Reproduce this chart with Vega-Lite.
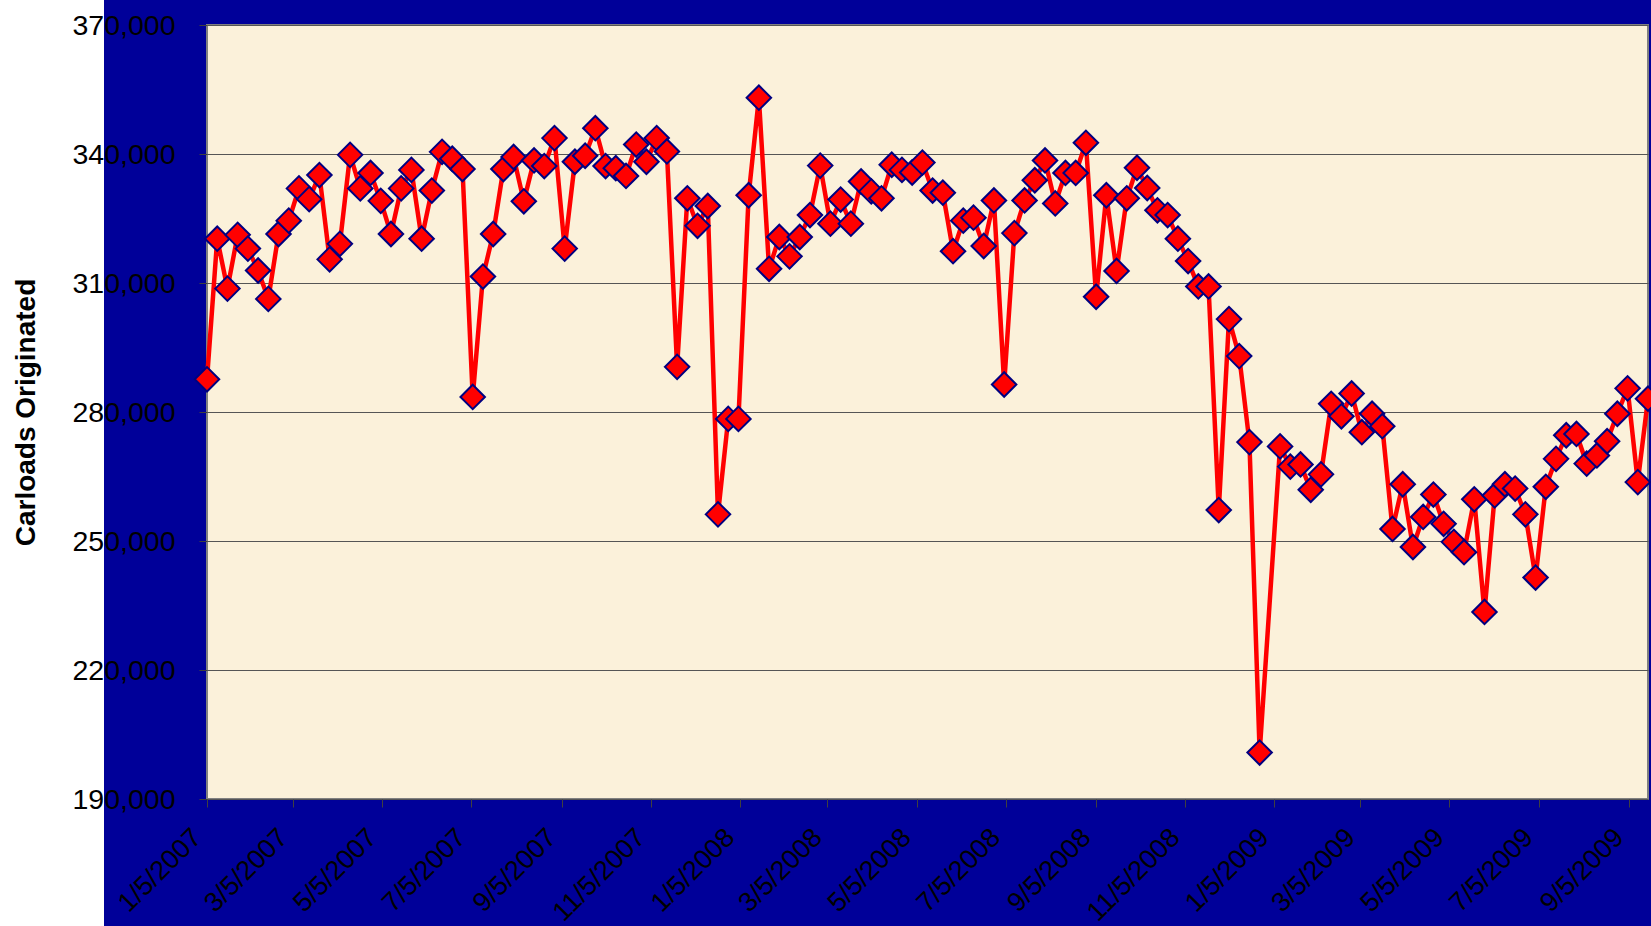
{
  "$schema": "https://vega.github.io/schema/vega-lite/v6.json",
  "background": "#000099",
  "padding": {"left": 0, "top": 0, "right": 2, "bottom": 0},
  "config": {"font": "Liberation Sans", "view": {"stroke": null}},
  "datasets": {
    "carloads": [
      {"date": "2007-01-05", "carloads": 287600},
      {"date": "2007-01-12", "carloads": 320300},
      {"date": "2007-01-19", "carloads": 308700},
      {"date": "2007-01-26", "carloads": 321200},
      {"date": "2007-02-02", "carloads": 318000},
      {"date": "2007-02-09", "carloads": 312900},
      {"date": "2007-02-16", "carloads": 306300},
      {"date": "2007-02-23", "carloads": 321400},
      {"date": "2007-03-02", "carloads": 324500},
      {"date": "2007-03-09", "carloads": 332000},
      {"date": "2007-03-16", "carloads": 329500},
      {"date": "2007-03-23", "carloads": 335100},
      {"date": "2007-03-30", "carloads": 315500},
      {"date": "2007-04-06", "carloads": 319100},
      {"date": "2007-04-13", "carloads": 339800},
      {"date": "2007-04-20", "carloads": 332000},
      {"date": "2007-04-27", "carloads": 335600},
      {"date": "2007-05-04", "carloads": 329100},
      {"date": "2007-05-11", "carloads": 321400},
      {"date": "2007-05-18", "carloads": 332000},
      {"date": "2007-05-25", "carloads": 336300},
      {"date": "2007-06-01", "carloads": 320300},
      {"date": "2007-06-08", "carloads": 331500},
      {"date": "2007-06-15", "carloads": 340500},
      {"date": "2007-06-22", "carloads": 338900},
      {"date": "2007-06-29", "carloads": 336500},
      {"date": "2007-07-06", "carloads": 283500},
      {"date": "2007-07-13", "carloads": 311500},
      {"date": "2007-07-20", "carloads": 321400},
      {"date": "2007-07-27", "carloads": 336500},
      {"date": "2007-08-03", "carloads": 339300},
      {"date": "2007-08-10", "carloads": 329000},
      {"date": "2007-08-17", "carloads": 338500},
      {"date": "2007-08-24", "carloads": 337200},
      {"date": "2007-08-31", "carloads": 343700},
      {"date": "2007-09-07", "carloads": 318000},
      {"date": "2007-09-14", "carloads": 338200},
      {"date": "2007-09-21", "carloads": 339600},
      {"date": "2007-09-28", "carloads": 346000},
      {"date": "2007-10-05", "carloads": 337200},
      {"date": "2007-10-12", "carloads": 336700},
      {"date": "2007-10-19", "carloads": 334900},
      {"date": "2007-10-26", "carloads": 342200},
      {"date": "2007-11-02", "carloads": 338200},
      {"date": "2007-11-09", "carloads": 343700},
      {"date": "2007-11-16", "carloads": 340600},
      {"date": "2007-11-23", "carloads": 290500},
      {"date": "2007-11-30", "carloads": 329700},
      {"date": "2007-12-07", "carloads": 323300},
      {"date": "2007-12-14", "carloads": 327900},
      {"date": "2007-12-21", "carloads": 256200},
      {"date": "2007-12-28", "carloads": 278400},
      {"date": "2008-01-04", "carloads": 278400},
      {"date": "2008-01-11", "carloads": 330400},
      {"date": "2008-01-18", "carloads": 353100},
      {"date": "2008-01-25", "carloads": 313300},
      {"date": "2008-02-01", "carloads": 320700},
      {"date": "2008-02-08", "carloads": 316200},
      {"date": "2008-02-15", "carloads": 320700},
      {"date": "2008-02-22", "carloads": 325800},
      {"date": "2008-02-29", "carloads": 337300},
      {"date": "2008-03-07", "carloads": 323800},
      {"date": "2008-03-14", "carloads": 329400},
      {"date": "2008-03-21", "carloads": 323800},
      {"date": "2008-03-28", "carloads": 333600},
      {"date": "2008-04-04", "carloads": 331300},
      {"date": "2008-04-11", "carloads": 329700},
      {"date": "2008-04-18", "carloads": 337500},
      {"date": "2008-04-25", "carloads": 336300},
      {"date": "2008-05-02", "carloads": 335700},
      {"date": "2008-05-09", "carloads": 338000},
      {"date": "2008-05-16", "carloads": 331500},
      {"date": "2008-05-23", "carloads": 331000},
      {"date": "2008-05-30", "carloads": 317400},
      {"date": "2008-06-06", "carloads": 324500},
      {"date": "2008-06-13", "carloads": 325200},
      {"date": "2008-06-20", "carloads": 318600},
      {"date": "2008-06-27", "carloads": 329200},
      {"date": "2008-07-04", "carloads": 286400},
      {"date": "2008-07-11", "carloads": 321600},
      {"date": "2008-07-18", "carloads": 329200},
      {"date": "2008-07-25", "carloads": 333900},
      {"date": "2008-08-01", "carloads": 338500},
      {"date": "2008-08-08", "carloads": 328500},
      {"date": "2008-08-15", "carloads": 335600},
      {"date": "2008-08-22", "carloads": 335600},
      {"date": "2008-08-29", "carloads": 342600},
      {"date": "2008-09-05", "carloads": 306800},
      {"date": "2008-09-12", "carloads": 330400},
      {"date": "2008-09-19", "carloads": 312800},
      {"date": "2008-09-26", "carloads": 329700},
      {"date": "2008-10-03", "carloads": 336800},
      {"date": "2008-10-10", "carloads": 332100},
      {"date": "2008-10-17", "carloads": 326900},
      {"date": "2008-10-24", "carloads": 325800},
      {"date": "2008-10-31", "carloads": 320300},
      {"date": "2008-11-07", "carloads": 315100},
      {"date": "2008-11-14", "carloads": 309200},
      {"date": "2008-11-21", "carloads": 309200},
      {"date": "2008-11-28", "carloads": 257200},
      {"date": "2008-12-05", "carloads": 301600},
      {"date": "2008-12-12", "carloads": 293000},
      {"date": "2008-12-19", "carloads": 273000},
      {"date": "2008-12-26", "carloads": 200800},
      {"date": "2009-01-09", "carloads": 272000},
      {"date": "2009-01-16", "carloads": 267300},
      {"date": "2009-01-23", "carloads": 267800},
      {"date": "2009-01-30", "carloads": 261900},
      {"date": "2009-02-06", "carloads": 265500},
      {"date": "2009-02-13", "carloads": 281900},
      {"date": "2009-02-20", "carloads": 279000},
      {"date": "2009-02-27", "carloads": 284300},
      {"date": "2009-03-06", "carloads": 275300},
      {"date": "2009-03-13", "carloads": 279600},
      {"date": "2009-03-20", "carloads": 276700},
      {"date": "2009-03-27", "carloads": 252800},
      {"date": "2009-04-03", "carloads": 263200},
      {"date": "2009-04-10", "carloads": 248600},
      {"date": "2009-04-17", "carloads": 255600},
      {"date": "2009-04-24", "carloads": 260800},
      {"date": "2009-05-01", "carloads": 254000},
      {"date": "2009-05-08", "carloads": 249800},
      {"date": "2009-05-15", "carloads": 247400},
      {"date": "2009-05-22", "carloads": 259700},
      {"date": "2009-05-29", "carloads": 233500},
      {"date": "2009-06-05", "carloads": 260600},
      {"date": "2009-06-12", "carloads": 263200},
      {"date": "2009-06-19", "carloads": 262200},
      {"date": "2009-06-26", "carloads": 256200},
      {"date": "2009-07-03", "carloads": 241500},
      {"date": "2009-07-10", "carloads": 262600},
      {"date": "2009-07-17", "carloads": 269100},
      {"date": "2009-07-24", "carloads": 274600},
      {"date": "2009-07-31", "carloads": 274900},
      {"date": "2009-08-07", "carloads": 268000},
      {"date": "2009-08-14", "carloads": 269900},
      {"date": "2009-08-21", "carloads": 273200},
      {"date": "2009-08-28", "carloads": 279600},
      {"date": "2009-09-04", "carloads": 285500},
      {"date": "2009-09-11", "carloads": 263700},
      {"date": "2009-09-18", "carloads": 283100}
    ]
  },
  "bounds": "flush",
  "spacing": 103,
  "hconcat": [
    {
      "width": 104,
      "height": 926,
      "view": {"fill": "#FFFFFF", "stroke": null},
      "data": {"values": []},
      "mark": {"type": "text"},
      "encoding": {}
    },
    {
      "bounds": "flush",
      "spacing": 0,
      "vconcat": [
        {
          "width": 1441,
          "height": 25,
          "view": {"fill": null, "stroke": null},
          "data": {"values": []},
          "mark": {"type": "text"},
          "encoding": {}
        },
        {
          "width": 1441,
          "height": 774,
          "view": {"fill": "#FBF1DA", "stroke": "#808080", "strokeWidth": 2},
          "data": {"name": "carloads"},
          "encoding": {
            "x": {
              "field": "date",
              "type": "temporal",
              "scale": {
                "type": "utc",
                "domain": [
                  {"year": 2007, "month": 1, "date": 5, "utc": true},
                  {"year": 2009, "month": 9, "date": 18, "utc": true}
                ]
              },
              "axis": {
                "values": [
                  {"year": 2007, "month": 1, "date": 5, "utc": true},
                  {"year": 2007, "month": 3, "date": 5, "utc": true},
                  {"year": 2007, "month": 5, "date": 5, "utc": true},
                  {"year": 2007, "month": 7, "date": 5, "utc": true},
                  {"year": 2007, "month": 9, "date": 5, "utc": true},
                  {"year": 2007, "month": 11, "date": 5, "utc": true},
                  {"year": 2008, "month": 1, "date": 5, "utc": true},
                  {"year": 2008, "month": 3, "date": 5, "utc": true},
                  {"year": 2008, "month": 5, "date": 5, "utc": true},
                  {"year": 2008, "month": 7, "date": 5, "utc": true},
                  {"year": 2008, "month": 9, "date": 5, "utc": true},
                  {"year": 2008, "month": 11, "date": 5, "utc": true},
                  {"year": 2009, "month": 1, "date": 5, "utc": true},
                  {"year": 2009, "month": 3, "date": 5, "utc": true},
                  {"year": 2009, "month": 5, "date": 5, "utc": true},
                  {"year": 2009, "month": 7, "date": 5, "utc": true},
                  {"year": 2009, "month": 9, "date": 5, "utc": true}
                ],
                "labelExpr": "utcFormat(datum.value, '%-m/%-d/%Y')",
                "labelAngle": -45,
                "labelAlign": "right",
                "labelBaseline": "middle",
                "labelFontSize": 27,
                "labelColor": "#000000",
                "labelPadding": 26,
                "labelOffset": -10,
                "labelOverlap": false,
                "labelFlush": false,
                "tickSize": 8,
                "tickColor": "#404040",
                "tickWidth": 1,
                "domain": false,
                "grid": false,
                "title": null
              }
            },
            "y": {
              "field": "carloads",
              "type": "quantitative",
              "scale": {"domain": [190000, 370000], "nice": false, "zero": false},
              "axis": {
                "values": [190000, 220000, 250000, 280000, 310000, 340000, 370000],
                "format": ",d",
                "labelFontSize": 28.5,
                "labelColor": "#000000",
                "labelPadding": 24,
                "labelOverlap": false,
                "labelFlush": false,
                "tickSize": 8,
                "tickColor": "#404040",
                "tickWidth": 1,
                "domain": false,
                "grid": true,
                "gridColor": "#555555",
                "gridWidth": 1,
                "title": "Carloads Originated",
                "titleFontSize": 28,
                "titleFontWeight": "bold",
                "titleColor": "#000000",
                "titleAngle": -90,
                "titleX": -181,
                "titleY": 387,
                "titleAlign": "center",
                "titleBaseline": "middle"
              }
            }
          },
          "layer": [
            {"mark": {"type": "line", "color": "#FF0000", "strokeWidth": 4.5}},
            {
              "mark": {
                "type": "point",
                "shape": "diamond",
                "filled": true,
                "fill": "#FF0000",
                "stroke": "#000080",
                "strokeWidth": 2,
                "size": 600,
                "opacity": 1
              }
            }
          ]
        }
      ]
    }
  ]
}
